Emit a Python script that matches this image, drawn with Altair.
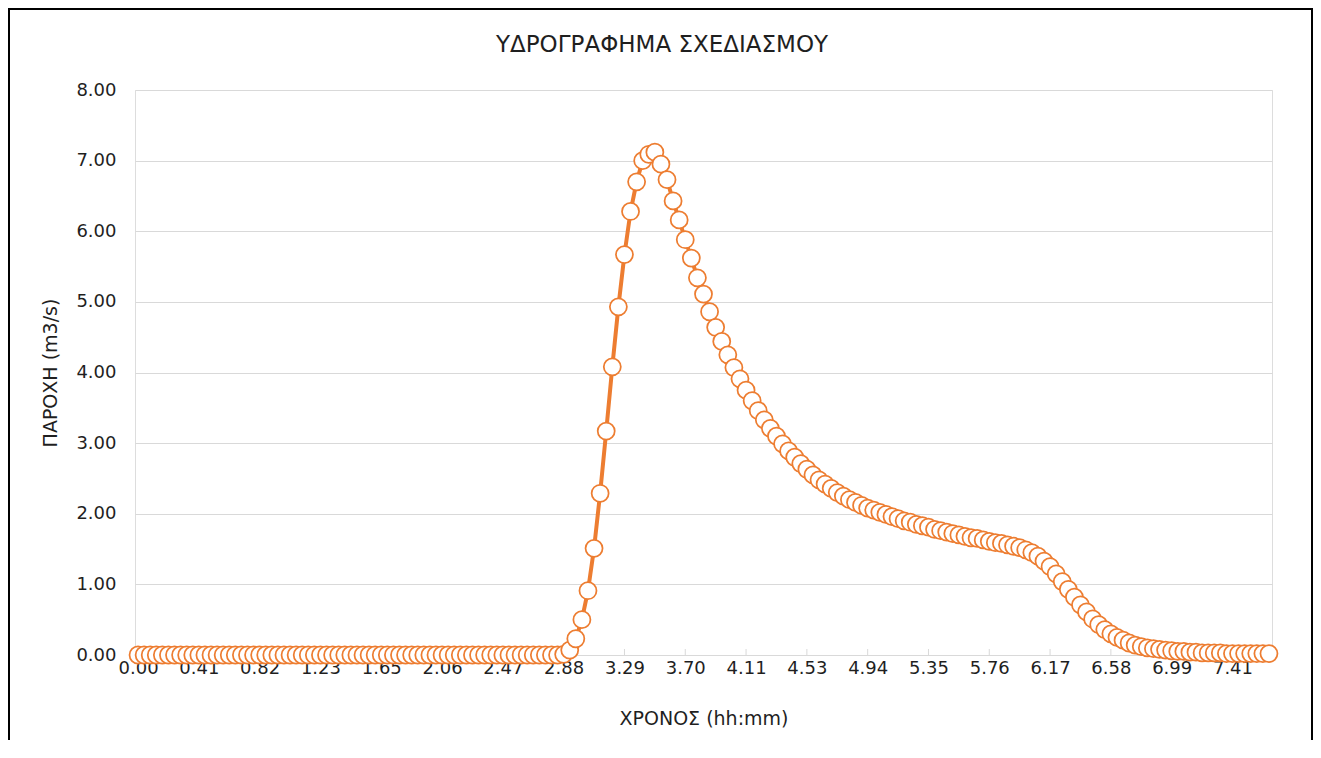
import altair as alt
import pandas as pd

TITLE = "ΥΔΡΟΓΡΑΦΗΜΑ ΣΧΕΔΙΑΣΜΟΥ"
X_TITLE = "ΧΡΟΝΟΣ (hh:mm)"
Y_TITLE = "ΠΑΡΟΧΗ (m3/s)"

# x tick labels (every 10th category)
TICK_LABELS = ["0.00", "0.41", "0.82", "1.23", "1.65", "2.06", "2.47", "2.88", "3.29",
               "3.70", "4.11", "4.53", "4.94", "5.35", "5.76", "6.17", "6.58", "6.99", "7.41"]

# discharge values (m3/s), one per time step
Q_BASE = [0.00] * 70
Q_RISE = [0.01, 0.07, 0.23, 0.50, 0.91, 1.51, 2.29, 3.17, 4.08, 4.93,
          5.67, 6.28, 6.70, 7.00, 7.09, 7.12]
Q_FALL = [6.95, 6.73, 6.43, 6.16, 5.88, 5.62, 5.34, 5.11,
          4.86, 4.64, 4.44, 4.25, 4.07, 3.91, 3.75, 3.60, 3.46, 3.33,
          3.21, 3.10, 2.99, 2.89, 2.80, 2.71, 2.63, 2.55, 2.48, 2.42,
          2.36, 2.30, 2.25, 2.20, 2.16, 2.12, 2.08, 2.05, 2.02, 1.99,
          1.96, 1.93, 1.90, 1.88, 1.85, 1.83, 1.81, 1.78, 1.76, 1.74,
          1.72, 1.70, 1.68, 1.66, 1.65, 1.63, 1.61, 1.59, 1.58, 1.56,
          1.54, 1.52, 1.49, 1.45, 1.40, 1.33, 1.25, 1.15, 1.04, 0.93,
          0.82, 0.71, 0.61, 0.51, 0.43, 0.36, 0.30, 0.25, 0.21, 0.17,
          0.14, 0.12, 0.10, 0.09, 0.08, 0.07, 0.06, 0.05, 0.05, 0.04,
          0.04, 0.03, 0.03, 0.03, 0.03, 0.02, 0.02, 0.02, 0.02, 0.02,
          0.02, 0.02, 0.02]
Q = Q_BASE + Q_RISE + Q_FALL

N = len(Q)
df = pd.DataFrame({"i": list(range(N)), "q": Q})
tick_idx = [10 * k for k in range(len(TICK_LABELS))]
ticks_df = pd.DataFrame({"i": tick_idx})

ORANGE = "#ED7D31"
GRID = "#d9d9d9"
TXT = "#1f1f1f"
FONT = "DejaVu Sans"
W, H = 1137, 565

label_expr = "[" + ",".join("'" + s + "'" for s in TICK_LABELS) + "][round(datum.value/10)]"

xscale = alt.Scale(domain=[-0.5, N - 0.5], nice=False, zero=False)
yscale = alt.Scale(domain=[0, 8], nice=False)

x_enc = alt.X("i:Q", scale=xscale,
              axis=alt.Axis(values=tick_idx, labelExpr=label_expr, grid=False,
                            ticks=False, domain=True, domainColor=GRID, domainWidth=1,
                            labelFont=FONT, labelFontSize=18, labelColor=TXT,
                            labelPadding=4, labelFlush=False,
                            title=X_TITLE, titleFont=FONT, titleFontSize=19,
                            titleFontWeight="normal", titleColor=TXT,
                            titleX=W / 2, titleY=63, titleBaseline="middle",
                            titleAlign="center"))
y_enc = alt.Y("q:Q", scale=yscale,
              axis=alt.Axis(values=list(range(9)), format=".2f", grid=True,
                            gridColor=GRID, gridWidth=1, ticks=False, domain=False,
                            labelFont=FONT, labelFontSize=18, labelColor=TXT,
                            labelPadding=19,
                            title=Y_TITLE, titleFont=FONT, titleFontSize=19,
                            titleFontWeight="normal", titleColor=TXT,
                            titleX=-85, titleY=H / 2, titleAngle=-90,
                            titleAlign="center", titleBaseline="middle"))

base = alt.Chart(df)

line = base.mark_line(color=ORANGE, strokeWidth=4).encode(x=x_enc, y=y_enc)
pts = base.mark_point(shape="circle", filled=True, fill="white", stroke=ORANGE,
                      strokeWidth=1.75, size=290, opacity=1).encode(x="i:Q", y="q:Q")

tick_marks = alt.Chart(ticks_df).mark_rule(color=GRID, strokeWidth=1).encode(
    x="i:Q", y=alt.value(H - 6), y2=alt.value(H))

frame = alt.Chart(pd.DataFrame({"k": [0]})).mark_rect(
    fill="transparent", stroke="black", strokeWidth=2).encode(
    x=alt.value(-126), x2=alt.value(W + 40), y=alt.value(-81), y2=alt.value(H + 200))

title_txt = alt.Chart(pd.DataFrame({"t": [TITLE]})).mark_text(
    font=FONT, fontSize=23, color=TXT, align="center", baseline="middle").encode(
    text="t:N", x=alt.value(527), y=alt.value(-45))

chart = alt.layer(tick_marks, line, pts, frame, title_txt).properties(
    width=W, height=H,
    autosize=alt.AutoSizeParams(type="none"),
    padding={"left": 127, "top": 82, "right": 41, "bottom": 85},
).configure_view(stroke=None).configure(background="white")

chart.save("out.html", embed_options={"renderer": "svg", "actions": False})
